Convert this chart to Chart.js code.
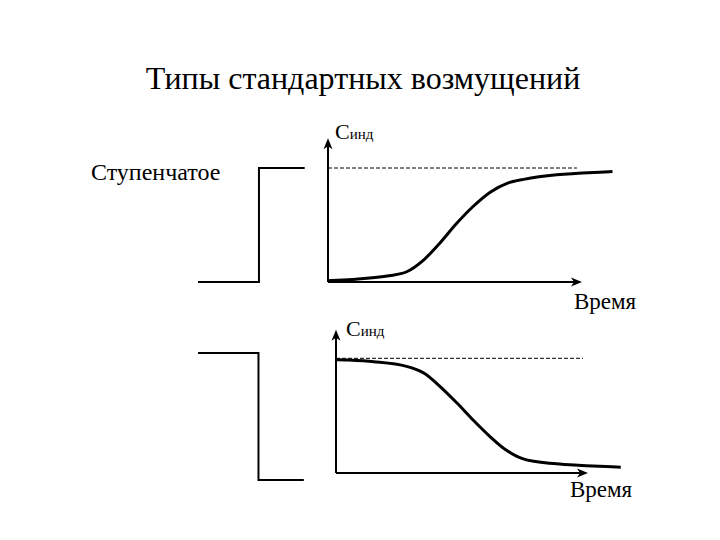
<!DOCTYPE html>
<html>
<head>
<meta charset="utf-8">
<script src="https://cdn.jsdelivr.net/npm/chart.js@4"></script>
<style>
  body { margin: 0; background: #fff; }
  #page { position: relative; width: 720px; height: 540px; overflow: hidden; font-family: "Liberation Serif", "Times New Roman", Tinos, "DejaVu Serif", "Noto Serif", FreeSerif, serif; color: #000; }
  canvas { position: absolute; }
  .txt { position: absolute; white-space: nowrap; line-height: 1; }
  .sub { font-size: 15px; }
</style>
</head>
<body>
<div id="page">
  <div class="txt" style="left:0;width:726px;text-align:center;top:62px;font-size:32px;">Типы стандартных возмущений</div>
  <div class="txt" style="left:91px;top:160px;font-size:24px;">Ступенчатое</div>
  <div class="txt" style="left:335px;top:121px;font-size:22px;">C<span class="sub">инд</span></div>
  <div class="txt" style="left:346px;top:318px;font-size:22px;">C<span class="sub">инд</span></div>
  <div class="txt" style="left:574px;top:290px;font-size:23px;">Время</div>
  <div class="txt" style="left:570px;top:478px;font-size:23px;">Время</div>

  <canvas id="stepUp" width="125" height="140" style="left:190px;top:150px;"></canvas>
  <canvas id="respUp" width="312" height="162" style="left:318px;top:128px;"></canvas>
  <canvas id="stepDown" width="125" height="150" style="left:190px;top:340px;"></canvas>
  <canvas id="respDown" width="304" height="165" style="left:326px;top:320px;"></canvas>
</div>
<script>
(function () {

  // входное воздействие (ступенька)
  const stepTime = [0, 2.4, 4.2];
  const stepUpLevel = [0, 1, 1];
  const stepDownLevel = [1, 0, 0];

  // отклик C_инд
  const respUpTime = [0, 1.1, 2.4, 3.1, 3.75, 4.4, 5.05, 5.7, 6.4, 7.05, 7.7, 9.0, 11.2];
  const respUpConc = [0.01, 0.025, 0.055, 0.09, 0.19, 0.34, 0.51, 0.66, 0.79, 0.865, 0.9, 0.94, 0.97];
  const respDownTime = [0, 1.5, 2.8, 3.5, 4.1, 4.8, 5.45, 6.1, 6.75, 7.4, 8.75, 11.3];
  const respDownConc = [0.99, 0.97, 0.93, 0.87, 0.76, 0.61, 0.46, 0.32, 0.2, 0.125, 0.08, 0.05];

  // пунктир уровня
  const setTime = [0, 9.8];
  const setLevel = [1, 1];

  // концы осей
  const axisTimeEnd = 10;
  const axisConcTopUp = 1.26;
  const axisConcTopDown = 1.25;

  const pts = (xs, ys) => xs.map((x, i) => ({ x: x, y: ys[i] }));

  // пределы шкалы по пикселям холста
  function xRange(originPx, ppu, widthPx) {
    return { min: -originPx / ppu, max: (widthPx - originPx) / ppu };
  }
  function yRange(originPx, ppu, heightPx) {
    return { min: -(heightPx - originPx) / ppu, max: originPx / ppu };
  }

  const arrowAxes = {
    id: 'arrowAxes',
    afterDatasetsDraw(chart, args, opts) {
      if (!opts.on) return;
      const c = chart.ctx, xs = chart.scales.x, ys = chart.scales.y;
      const x0 = xs.getPixelForValue(0), y0 = ys.getPixelForValue(0);
      const xEnd = xs.getPixelForValue(opts.xEnd), yTop = ys.getPixelForValue(opts.yTop);
      c.save();
      c.strokeStyle = '#000';
      c.fillStyle = '#000';
      c.lineWidth = 2;
      c.beginPath();
      c.moveTo(x0, y0); c.lineTo(x0, yTop + 6);
      c.moveTo(x0, y0); c.lineTo(xEnd - 6, y0);
      c.stroke();
      c.beginPath();
      c.moveTo(x0, yTop); c.lineTo(x0 - 4.5, yTop + 11); c.lineTo(x0, yTop + 8); c.lineTo(x0 + 4.5, yTop + 11);
      c.closePath(); c.fill();
      c.beginPath();
      c.moveTo(xEnd, y0); c.lineTo(xEnd - 11, y0 - 4.5); c.lineTo(xEnd - 8, y0); c.lineTo(xEnd - 11, y0 + 4.5);
      c.closePath(); c.fill();
      c.restore();
    }
  };

  function makeChart(id, xr, yr, datasets, axes) {
    return new Chart(document.getElementById(id), {
      type: 'line',
      data: { datasets: datasets },
      options: {
        responsive: false,
        animation: false,
        layout: { padding: 0 },
        scales: {
          x: { type: 'linear', display: false, min: xr.min, max: xr.max },
          y: { type: 'linear', display: false, min: yr.min, max: yr.max }
        },
        elements: { point: { radius: 0 } },
        plugins: {
          legend: { display: false },
          tooltip: { enabled: false },
          arrowAxes: axes || { on: false }
        }
      },
      plugins: [arrowAxes]
    });
  }

  const stepSet = (levels) => ({
    data: pts(stepTime, levels), stepped: 'before',
    borderColor: '#000', borderWidth: 2, clip: false
  });
  const curveSet = (t, c) => ({
    data: pts(t, c), cubicInterpolationMode: 'monotone',
    borderColor: '#000', borderWidth: 3, clip: false
  });
  const dashSet = () => ({
    data: pts(setTime, setLevel), borderColor: '#000', borderWidth: 1,
    borderDash: [4, 2], clip: false
  });

  makeChart('stepUp', xRange(8, 25.4, 125), yRange(132, 114, 140), [stepSet(stepUpLevel)]);
  makeChart('respUp', xRange(10, 25.4, 312), yRange(154, 114, 162),
    [dashSet(), curveSet(respUpTime, respUpConc)],
    { on: true, xEnd: axisTimeEnd, yTop: axisConcTopUp });

  makeChart('stepDown', xRange(8, 25.2, 125), yRange(140, 127, 150), [stepSet(stepDownLevel)]);
  makeChart('respDown', xRange(10, 25.2, 304), yRange(153, 114.7, 165),
    [dashSet(), curveSet(respDownTime, respDownConc)],
    { on: true, xEnd: axisTimeEnd, yTop: axisConcTopDown });

})();
</script>
</body>
</html>
